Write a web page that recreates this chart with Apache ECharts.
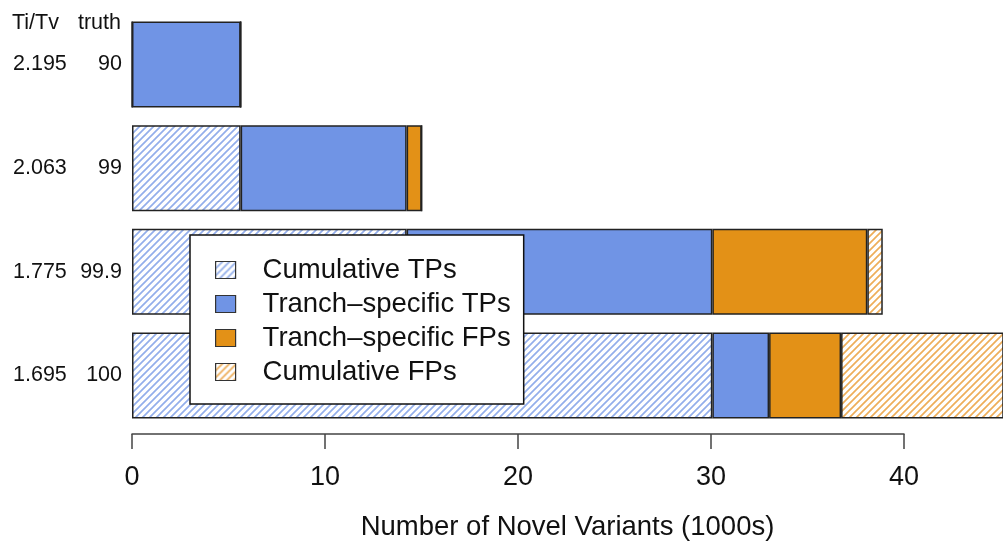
<!DOCTYPE html>
<html>
<head>
<meta charset="utf-8">
<script src="https://cdn.jsdelivr.net/npm/echarts@6/dist/echarts.min.js"></script>
<style>
  html, body { margin: 0; padding: 0; background: #fff; }
  #chart { width: 1003px; height: 542px; }
</style>
</head>
<body>
<div id="chart"></div>
<script>
// Tranche sensitivity levels (truth) and their Ti/Tv ratios, top to bottom
const truthLevels = ['90', '99', '99.9', '100'];
const titv = ['2.195', '2.063', '1.775', '1.695'];

// Novel variant counts per tranche, in thousands
const cumulativeTPs = [0, 5.63, 14.23, 30.07];
const tranchTPs = [5.63, 8.60, 15.84, 2.94];
const tranchFPs = [0, 0.78, 8.03, 3.73];
const cumulativeFPs = [0, 0, 0.80, 8.81];

const xTicks = [0, 10, 20, 30, 40];
const seriesNames = ['Cumulative TPs', 'Tranch\u2013specific TPs', 'Tranch\u2013specific FPs', 'Cumulative FPs'];

const BLUE = '#7094e5';
const ORANGE = '#e39117';
const BLUE_HATCH = '#93aeeb';
const ORANGE_HATCH = '#eeae5a';
const FONT = '"Liberation Sans", Arial, Helvetica, sans-serif';

// Diagonal hatch fill used for the cumulative segments
function hatch(color) {
  const s = 7;
  const c = document.createElement('canvas');
  c.width = s; c.height = s;
  const g = c.getContext('2d');
  g.fillStyle = '#fff';
  g.fillRect(0, 0, s, s);
  g.strokeStyle = color;
  g.lineWidth = 1.7;
  g.beginPath();
  g.moveTo(-1, s + 1); g.lineTo(s + 1, -1);
  g.moveTo(-1, 1); g.lineTo(1, -1);
  g.moveTo(s - 1, s + 1); g.lineTo(s + 1, s - 1);
  g.stroke();
  return { image: c, repeat: 'repeat' };
}

const border = { borderColor: '#222', borderWidth: 1.5 };
function barSeries(name, data, color) {
  return {
    name, type: 'bar', stack: 'total', data,
    xAxisIndex: 0, yAxisIndex: 0,
    barWidth: 86,
    itemStyle: Object.assign({ color }, border),
    emphasis: { disabled: true },
    clip: true
  };
}

const labelRich = {
  a: { fontFamily: FONT, fontSize: 21.5, fontWeight: 'normal', color: '#111', width: 60, align: 'left' },
  b: { fontFamily: FONT, fontSize: 21.5, fontWeight: 'normal', color: '#111', width: 49, align: 'right' }
};

const chart = echarts.init(document.getElementById('chart'));
chart.setOption({
  animation: false,
  textStyle: { fontFamily: FONT, color: '#111' },
  title: {
    text: '{a|Ti/Tv}{b|truth}',
    left: 12, top: 12, padding: 0,
    textStyle: { fontWeight: 'normal', rich: labelRich }
  },
  legend: {
    orient: 'vertical',
    left: 190, top: 235,
    padding: [21, 13, 18, 25],
    itemWidth: 20, itemHeight: 17, itemGap: 6,
    backgroundColor: '#fff',
    borderColor: '#111', borderWidth: 1.5,
    icon: 'rect',
    itemStyle: { borderColor: '#333', borderWidth: 1.2 },
    textStyle: { fontFamily: FONT, fontSize: 27.5, lineHeight: 28, color: '#111', padding: [0, 0, 0, 22] },
    data: seriesNames,
    selectedMode: false
  },
  grid: [
    { left: 132, right: 0, top: 12.65, height: 414.7, outerBoundsMode: 'none', containLabel: false },
    { left: 132, width: 772, top: 12.65, height: 421.35, outerBoundsMode: 'none', containLabel: false }
  ],
  xAxis: [
    {
      gridIndex: 0, type: 'value', min: 0, max: 45.13,
      axisLine: { show: false }, axisTick: { show: false },
      axisLabel: { show: false }, splitLine: { show: false },
      name: 'Number of Novel Variants (1000s)',
      nameLocation: 'middle', nameGap: 86.5,
      nameTextStyle: { fontFamily: FONT, fontSize: 27.5, color: '#111' }
    },
    {
      gridIndex: 1, type: 'value', min: xTicks[0], max: xTicks[xTicks.length - 1], interval: 10,
      position: 'bottom',
      axisLine: { show: true, lineStyle: { color: '#444', width: 1.5 } },
      axisTick: { show: true, length: 15, lineStyle: { color: '#444', width: 1.5 } },
      splitLine: { show: false },
      axisLabel: { fontFamily: FONT, fontSize: 27, color: '#111', margin: 30 }
    }
  ],
  yAxis: [
    {
      gridIndex: 0, type: 'category', inverse: true, data: truthLevels,
      axisLine: { show: false }, axisTick: { show: false }, splitLine: { show: false },
      axisLabel: {
        margin: 10,
        formatter: (v, i) => '{a|' + titv[i] + '}{b|' + v + '}',
        rich: labelRich
      }
    },
    { gridIndex: 1, type: 'value', show: false, min: 0, max: 1 }
  ],
  series: [
    barSeries(seriesNames[0], cumulativeTPs, hatch(BLUE_HATCH)),
    barSeries(seriesNames[1], tranchTPs, BLUE),
    barSeries(seriesNames[2], tranchFPs, ORANGE),
    barSeries(seriesNames[3], cumulativeFPs, hatch(ORANGE_HATCH)),
    { type: 'line', xAxisIndex: 1, yAxisIndex: 1, data: [], silent: true }
  ]
});
</script>
</body>
</html>
